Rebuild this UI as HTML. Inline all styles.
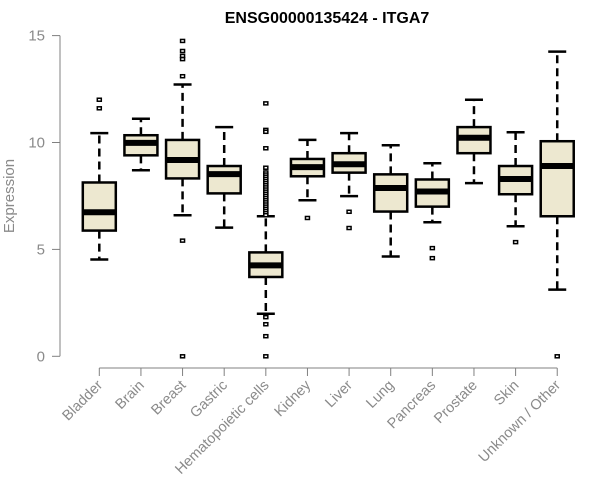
<!DOCTYPE html>
<html><head><meta charset="utf-8">
<style>
html,body{margin:0;padding:0;background:#fff;}
svg{display:block;font-family:"Liberation Sans",Arial,sans-serif;}
</style></head>
<body>
<svg id="chart" width="600" height="500" xmlns="http://www.w3.org/2000/svg">
<text x="327" y="23" text-anchor="middle" font-size="16" font-weight="bold" fill="#000">ENSG00000135424 - ITGA7</text>
<text transform="translate(14,196) rotate(-90)" text-anchor="middle" font-size="15" fill="#8a8a8a">Expression</text>
<g id="yaxis"></g>
<g id="xaxis"></g>
<g id="boxes"></g>
</svg>
<script>
const categories = ["Bladder","Brain","Breast","Gastric","Hematopoietic cells","Kidney","Liver","Lung","Pancreas","Prostate","Skin","Unknown / Other"];
const whiskerLow = [4.53,8.70,6.60,6.02,1.99,7.30,7.49,4.67,6.27,8.10,6.08,3.12];
const q1 = [5.88,9.40,8.32,7.62,3.71,8.42,8.59,6.77,7.00,9.50,7.58,6.55];
const median = [6.74,9.98,9.18,8.52,4.25,8.85,8.98,7.87,7.71,10.22,8.29,8.90];
const q3 = [8.13,10.34,10.12,8.90,4.86,9.23,9.50,8.51,8.27,10.72,8.90,10.06];
const whiskerHigh = [10.44,11.11,12.71,10.72,6.55,10.12,10.44,9.87,9.03,12.00,10.48,14.25];
const outliers = [
 [12.0,11.6],
 [],
 [14.75,14.28,14.05,13.9,13.1,5.41,0],
 [],
 [11.83,10.59,10.5,9.73,8.82,8.6,8.5,8.4,8.3,8.2,8.1,8.0,7.9,7.8,7.7,7.6,7.5,7.4,7.3,7.2,7.1,7.0,6.9,6.8,6.7,6.6,1.83,1.50,0.94,0],
 [6.47],
 [6.76,6.0],
 [],
 [5.06,4.59],
 [],
 [5.34],
 [0]
];
const yTicks = [0,5,10,15];

const NS = "http://www.w3.org/2000/svg";
const y0 = 356.3, yScale = 21.38;
function yPos(v){ return y0 - v*yScale; }
const x0 = 99.3, xStep = 41.63;
function xPos(i){ return x0 + i*xStep; }
function mk(tag, attrs, parent){
  const e = document.createElementNS(NS, tag);
  for (const k in attrs) e.setAttribute(k, attrs[k]);
  parent.appendChild(e);
  return e;
}
const yaxis = document.getElementById('yaxis');
const xaxis = document.getElementById('xaxis');
const boxes = document.getElementById('boxes');
const gray = "#808080";

const yl = mk('line', {x1:60,x2:60,y1:yPos(yTicks[yTicks.length-1]),y2:yPos(yTicks[0]),stroke:gray,'stroke-width':1}, yaxis);


yTicks.forEach(t => {
  const tk = mk('line', {x1:52,x2:60,y1:yPos(t),y2:yPos(t),stroke:gray,'stroke-width':1}, yaxis);
  
  
  const tl = mk('text', {x:45,y:yPos(t)+5,'text-anchor':'end','font-size':15,fill:'#8a8a8a'}, yaxis);
  tl.textContent = t;
  
  
});

const xl = mk('line', {x1:xPos(0),x2:xPos(categories.length-1),y1:368,y2:368,stroke:gray,'stroke-width':1}, xaxis);


categories.forEach((c,i) => {
  const x = xPos(i);
  const tk = mk('line', {x1:x,x2:x,y1:368,y2:376,stroke:gray,'stroke-width':1}, xaxis);
  
  
  const tl = mk('text', {x:x+4,y:386,'text-anchor':'end','font-size':14.5,fill:'#8a8a8a',transform:`rotate(-45 ${x+4} 386)`}, xaxis);
  tl.textContent = c;
  
  
});

const bw = 33, cw = 16;
categories.forEach((c,i) => {
  const x = xPos(i);
  const g = mk('g', {}, boxes);
  
  
  mk('line', {x1:x,x2:x,y1:yPos(q3[i]),y2:yPos(whiskerHigh[i]),stroke:'#000','stroke-width':2.5,'stroke-dasharray':'8,5'}, g);
  mk('line', {x1:x,x2:x,y1:yPos(q1[i]),y2:yPos(whiskerLow[i]),stroke:'#000','stroke-width':2.5,'stroke-dasharray':'8,5'}, g);
  mk('line', {x1:x-cw/2-1,x2:x+cw/2+1,y1:yPos(whiskerHigh[i]),y2:yPos(whiskerHigh[i]),stroke:'#000','stroke-width':2.5}, g);
  mk('line', {x1:x-cw/2-1,x2:x+cw/2+1,y1:yPos(whiskerLow[i]),y2:yPos(whiskerLow[i]),stroke:'#000','stroke-width':2.5}, g);
  mk('rect', {x:x-bw/2,y:yPos(q3[i]),width:bw,height:yPos(q1[i])-yPos(q3[i]),fill:'#ede8d0',stroke:'#000','stroke-width':2.5}, g);
  mk('line', {x1:x-bw/2,x2:x+bw/2,y1:yPos(median[i]),y2:yPos(median[i]),stroke:'#000','stroke-width':6}, g);
  outliers[i].forEach(v => {
    const o = mk('rect', {x:x-2,y:yPos(v)-1.5,width:4,height:3,fill:'#fff',stroke:'#000','stroke-width':1.5}, g);
    
    
  });
});
</script>
</body></html>
